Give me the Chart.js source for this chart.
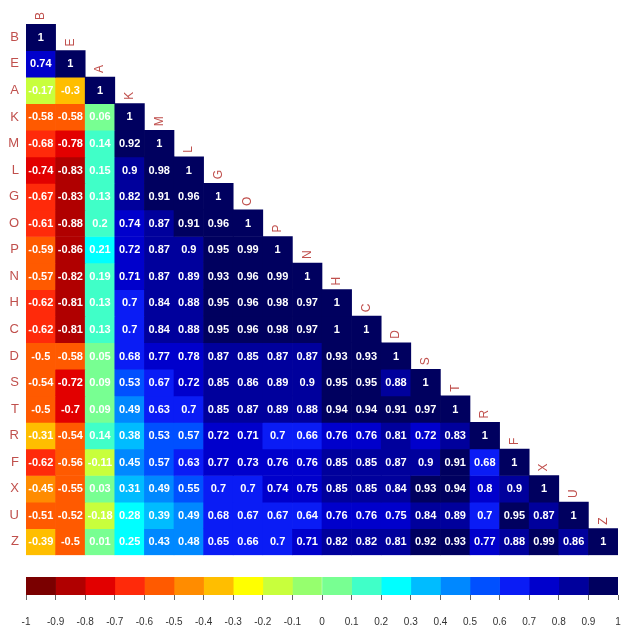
<!DOCTYPE html>
<html>
<head>
<meta charset="utf-8">
<script src="https://cdn.jsdelivr.net/npm/chart.js@4/dist/chart.umd.min.js"></script>
<style>
  html, body { margin: 0; padding: 0; background: #ffffff; }
  #wrap { position: relative; width: 623px; height: 626px; }
  #main { position: absolute; left: 0; top: 0; }
  #bar { position: absolute; left: 0; top: 570px; }
</style>
</head>
<body>
<div id="wrap">
  <canvas id="main" width="623" height="570"></canvas>
  <canvas id="bar" width="623" height="56"></canvas>
</div>
<script>
// ---- categories ----
const variables = ["B","E","A","K","M","L","G","O","P","N","H","C","D","S","T","R","F","X","U","Z"];

// ---- correlation rows (lower triangle) ----
const corrB = [1];
const corrE = [0.74, 1];
const corrA = [-0.17, -0.3, 1];
const corrK = [-0.58, -0.58, 0.06, 1];
const corrM = [-0.68, -0.78, 0.14, 0.92, 1];
const corrL = [-0.74, -0.83, 0.15, 0.9, 0.98, 1];
const corrG = [-0.67, -0.83, 0.13, 0.82, 0.91, 0.96, 1];
const corrO = [-0.61, -0.88, 0.2, 0.74, 0.87, 0.91, 0.96, 1];
const corrP = [-0.59, -0.86, 0.21, 0.72, 0.87, 0.9, 0.95, 0.99, 1];
const corrN = [-0.57, -0.82, 0.19, 0.71, 0.87, 0.89, 0.93, 0.96, 0.99, 1];
const corrH = [-0.62, -0.81, 0.13, 0.7, 0.84, 0.88, 0.95, 0.96, 0.98, 0.97, 1];
const corrC = [-0.62, -0.81, 0.13, 0.7, 0.84, 0.88, 0.95, 0.96, 0.98, 0.97, 1, 1];
const corrD = [-0.5, -0.58, 0.05, 0.68, 0.77, 0.78, 0.87, 0.85, 0.87, 0.87, 0.93, 0.93, 1];
const corrS = [-0.54, -0.72, 0.09, 0.53, 0.67, 0.72, 0.85, 0.86, 0.89, 0.9, 0.95, 0.95, 0.88, 1];
const corrT = [-0.5, -0.7, 0.09, 0.49, 0.63, 0.7, 0.85, 0.87, 0.89, 0.88, 0.94, 0.94, 0.91, 0.97, 1];
const corrR = [-0.31, -0.54, 0.14, 0.38, 0.53, 0.57, 0.72, 0.71, 0.7, 0.66, 0.76, 0.76, 0.81, 0.72, 0.83, 1];
const corrF = [-0.62, -0.56, -0.11, 0.45, 0.57, 0.63, 0.77, 0.73, 0.76, 0.76, 0.85, 0.85, 0.87, 0.9, 0.91, 0.68, 1];
const corrX = [-0.45, -0.55, 0.03, 0.31, 0.49, 0.55, 0.7, 0.7, 0.74, 0.75, 0.85, 0.85, 0.84, 0.93, 0.94, 0.8, 0.9, 1];
const corrU = [-0.51, -0.52, -0.18, 0.28, 0.39, 0.49, 0.68, 0.67, 0.67, 0.64, 0.76, 0.76, 0.75, 0.84, 0.89, 0.7, 0.95, 0.87, 1];
const corrZ = [-0.39, -0.5, 0.01, 0.25, 0.43, 0.48, 0.65, 0.66, 0.7, 0.71, 0.82, 0.82, 0.81, 0.92, 0.93, 0.77, 0.88, 0.99, 0.86, 1];

// ---- colour scale tick labels / bin edges ----
const scaleTicks = [-1, -0.9, -0.8, -0.7, -0.6, -0.5, -0.4, -0.3, -0.2, -0.1, 0, 0.1, 0.2, 0.3, 0.4, 0.5, 0.6, 0.7, 0.8, 0.9, 1];

// ---- palette (style) ----
const binColors = [
  "#7a0000", "#b00000", "#e20000", "#ff2a0a", "#ff5a00", "#ff8c00", "#ffbe00", "#ffff00", "#c8ff3c", "#96ff6e",
  "#78ff92", "#40ffc8", "#00ffff", "#00bcff", "#0088ff", "#0050ff", "#0a1cf5", "#0000cc", "#00009c", "#00005f"
];
const labelColor = "#c0504d";

const matrix = [corrB, corrE, corrA, corrK, corrM, corrL, corrG, corrO, corrP, corrN,
                corrH, corrC, corrD, corrS, corrT, corrR, corrF, corrX, corrU, corrZ];

function colorFor(v) {
  let k = Math.ceil(Math.round((v + 1) * 1000) / 100) - 1;
  k = Math.max(0, Math.min(binColors.length - 1, k));
  return binColors[k];
}

const n = variables.length;
const datasets = matrix.map((row, i) => ({
  label: variables[i],
  data: variables.map((c, j) => j <= i ? [i, i + 1] : null),
  backgroundColor: variables.map((c, j) => j <= i ? colorFor(row[j]) : "rgba(0,0,0,0)"),
  borderWidth: 0,
  barPercentage: 1,
  categoryPercentage: 1,
  grouped: false
}));

const cellText = {
  id: "cellText",
  afterDatasetsDraw(chart) {
    const ctx = chart.ctx;
    ctx.save();
    ctx.fillStyle = "#ffffff";
    ctx.font = "bold 11px 'Liberation Sans', Arial, sans-serif";
    ctx.textAlign = "center";
    ctx.textBaseline = "middle";
    matrix.forEach((row, i) => {
      const meta = chart.getDatasetMeta(i);
      row.forEach((v, j) => {
        const el = meta.data[j];
        if (!el) return;
        ctx.fillText(String(v), el.x, (el.y + el.base) / 2 + 0.5);
      });
    });
    // column labels above the diagonal
    ctx.fillStyle = labelColor;
    ctx.font = "12px 'Liberation Sans', Arial, sans-serif";
    ctx.textAlign = "left";
    ctx.textBaseline = "middle";
    const y = chart.scales.y;
    variables.forEach((name, j) => {
      const el = chart.getDatasetMeta(j).data[j];
      const top = y.getPixelForValue(j);
      ctx.save();
      ctx.translate(el.x, top - 4);
      ctx.rotate(-Math.PI / 2);
      ctx.fillText(name, 0, 0);
      ctx.restore();
    });
    ctx.restore();
  }
};

new Chart(document.getElementById("main"), {
  type: "bar",
  data: { labels: variables, datasets },
  options: {
    responsive: false,
    animation: false,
    events: [],
    layout: { padding: { left: 0, top: 24, right: 5, bottom: 5 } },
    plugins: { legend: { display: false }, tooltip: { enabled: false } },
    scales: {
      x: { type: "category", display: false, offset: true },
      y: {
        type: "linear", min: 0, max: n, reverse: true,
        grid: { display: false, drawTicks: false },
        border: { display: false },
        afterBuildTicks(axis) { axis.ticks = variables.map((_, i) => ({ value: i + 0.5 })); },
        afterFit(axis) { axis.width = 26; },
        ticks: {
          padding: 7,
          color: labelColor,
          font: { family: "'Liberation Sans', Arial, sans-serif", size: 13 },
          callback: (v, idx) => variables[idx]
        }
      }
    }
  },
  plugins: [cellText]
});

// ---- colour bar ----
const barSets = binColors.map((c, k) => ({
  data: [[scaleTicks[k], scaleTicks[k + 1]]],
  backgroundColor: c,
  borderWidth: 0,
  barPercentage: 1,
  categoryPercentage: 1,
  grouped: false
}));

new Chart(document.getElementById("bar"), {
  type: "bar",
  data: { labels: ["scale"], datasets: barSets },
  options: {
    responsive: false,
    animation: false,
    events: [],
    indexAxis: "y",
    layout: { padding: { left: 26, top: 7, right: 5, bottom: 0 } },
    plugins: { legend: { display: false }, tooltip: { enabled: false } },
    scales: {
      y: { display: false },
      x: {
        type: "linear", min: -1, max: 1, position: "bottom",
        afterBuildTicks(axis) { axis.ticks = scaleTicks.map(v => ({ value: v })); },
        afterFit(axis) { axis.height = 31; axis.paddingLeft = 0; axis.paddingRight = 0; },
        grid: { drawOnChartArea: false, drawTicks: true, tickLength: 5, color: "#666666" },
        border: { display: false },
        ticks: {
          padding: 16,
          autoSkip: false,
          maxRotation: 0,
          color: "#333333",
          font: { family: "'Liberation Sans', Arial, sans-serif", size: 10 },
          callback: (v, idx) => String(scaleTicks[idx])
        }
      }
    }
  }
});
</script>
</body>
</html>
